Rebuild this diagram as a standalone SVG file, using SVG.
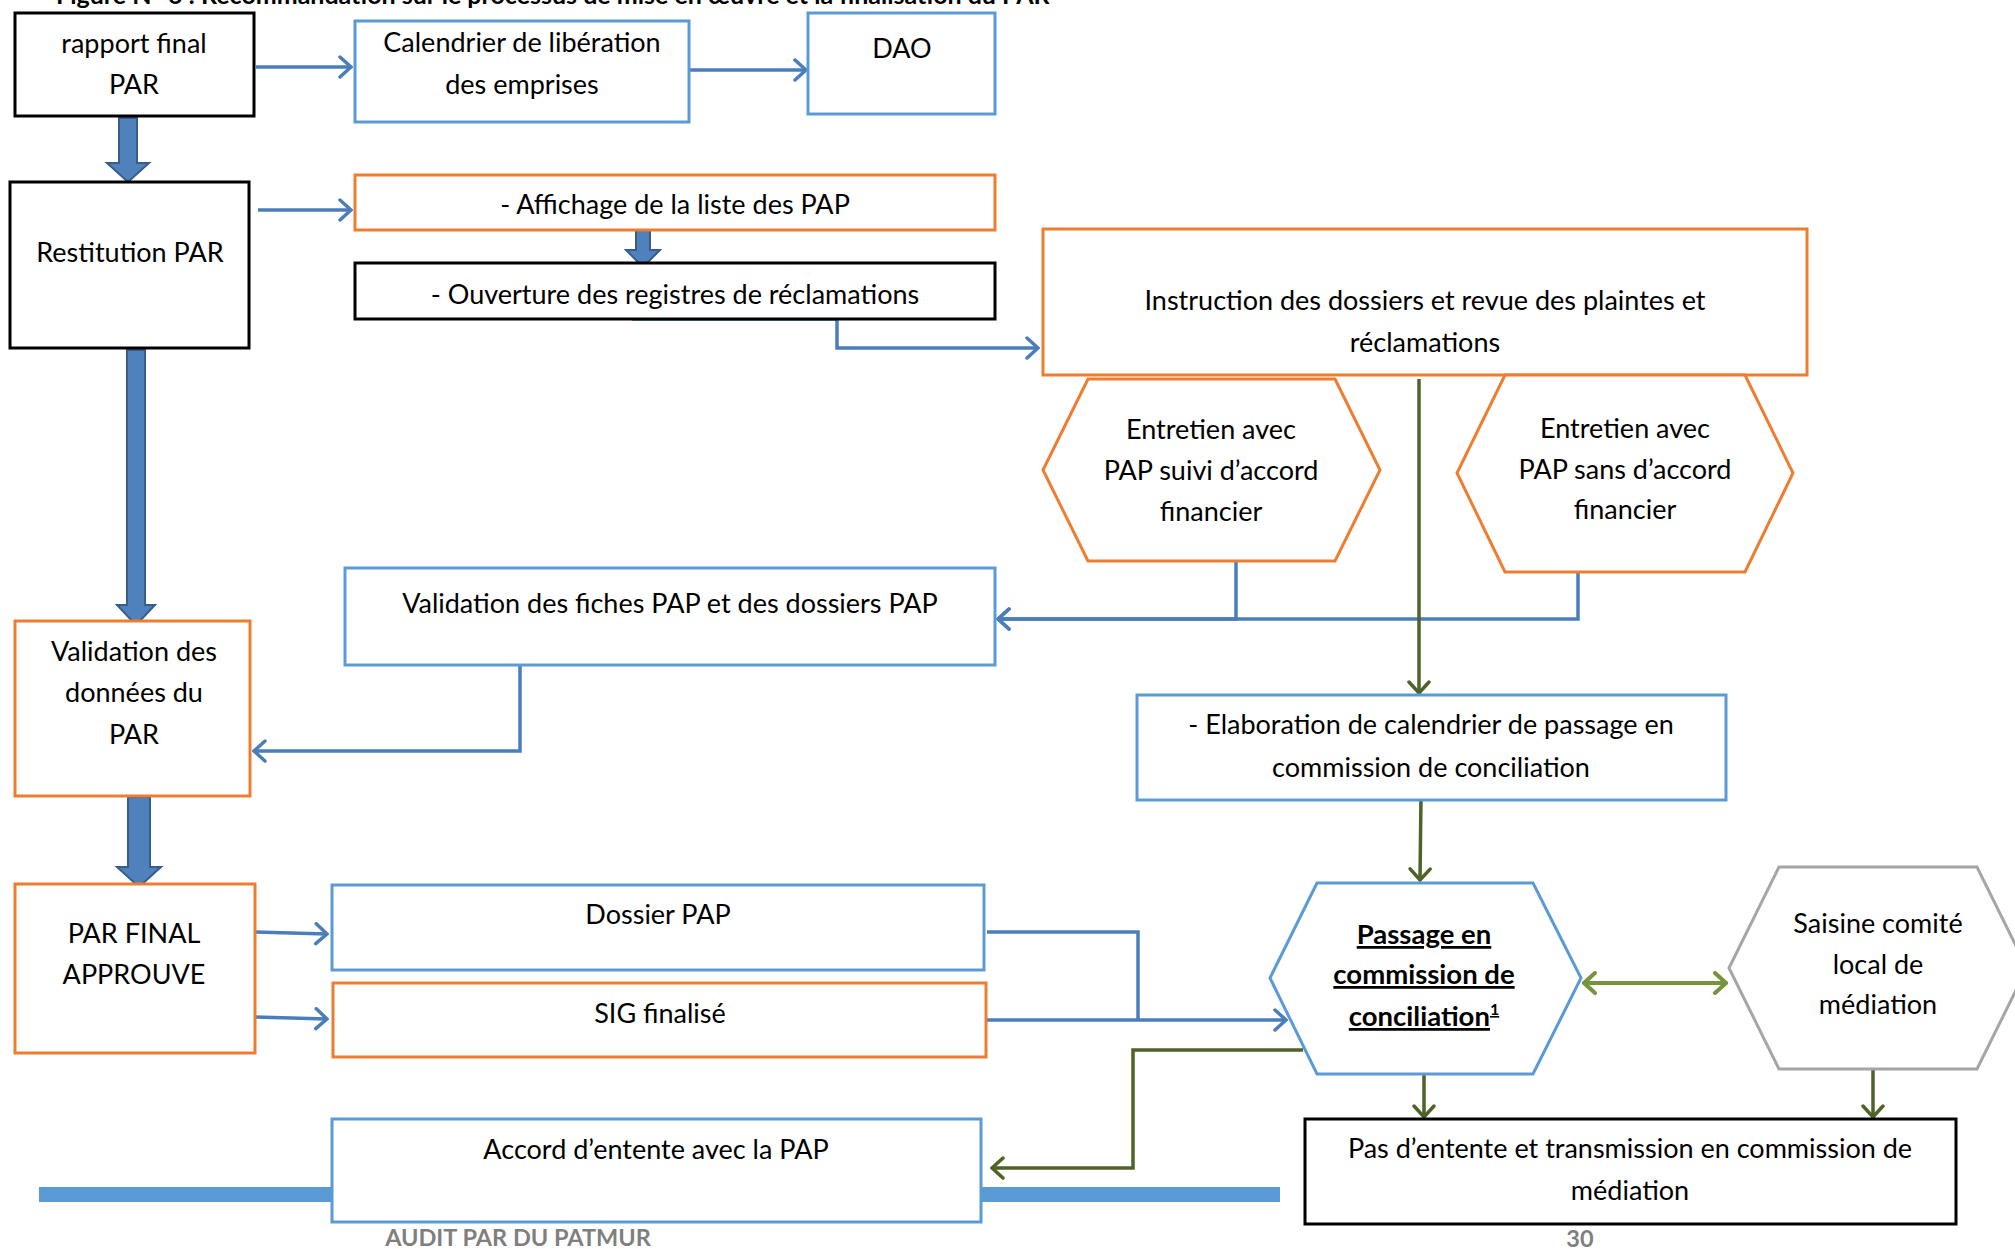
<svg xmlns="http://www.w3.org/2000/svg" width="2015" height="1249" viewBox="0 0 2015 1249">
  <style>
    text { font-family: "Lato", "Liberation Sans", sans-serif; font-size: 27px; fill: #000; text-anchor: middle; }
    .title { font-weight: bold; text-anchor: start; font-size: 25px; }
    .foot { font-weight: bold; fill: #7F7F7F; font-size: 23.5px; }
    .bold { font-weight: bold; text-decoration: underline; font-size: 27.5px; }
    .box { fill: #fff; stroke-width: 3; }
    .k { stroke: #000; }
    .b { stroke: #5B9BD5; }
    .o { stroke: #ED7D31; }
    .g { stroke: #A5A5A5; }
    .hex { fill: #fff; stroke-width: 3; stroke-linejoin: miter; }
    .cb { fill: none; stroke: #4A7EBB; stroke-width: 3.5; }
    .cg { fill: none; stroke: #4F6228; stroke-width: 3.5; }
    .cl { fill: none; stroke: #77933C; stroke-width: 4; }
    .blk { fill: #4F81BD; stroke: #385D8A; stroke-width: 2; }
  </style>
  <defs>
    <marker id="ab" markerUnits="userSpaceOnUse" viewBox="-14 -12 16 24" refX="0" refY="0" markerWidth="16" markerHeight="24" orient="auto">
      <path d="M-11,-10 L0,0 L-11,10" fill="none" stroke="#4A7EBB" stroke-width="3.5" stroke-linecap="round"/>
    </marker>
    <marker id="ag" markerUnits="userSpaceOnUse" viewBox="-14 -12 16 24" refX="0" refY="0" markerWidth="16" markerHeight="24" orient="auto">
      <path d="M-11,-10 L0,0 L-11,10" fill="none" stroke="#4F6228" stroke-width="3.5" stroke-linecap="round"/>
    </marker>
    <marker id="al" markerUnits="userSpaceOnUse" viewBox="-14 -12 16 24" refX="0" refY="0" markerWidth="16" markerHeight="24" orient="auto-start-reverse">
      <path d="M-11,-10 L0,0 L-11,10" fill="none" stroke="#77933C" stroke-width="4" stroke-linecap="round"/>
    </marker>
  </defs>

  <rect width="2015" height="1249" fill="#fff"/>

  <!-- page heading (runs off the top edge of the page) -->
  <text class="title" x="56" y="4">Figure N° 6 : Recommandation sur le processus de mise en œuvre et la finalisation du PAR</text>

  <!-- footer rule -->
  <rect x="39" y="1187" width="1241" height="15" fill="#5B9BD5"/>

  <g id="connectors">
    <!-- thick block arrows -->
    <polygon class="blk" points="119,118 137,118 137,163 149,163 128,182 107,163 119,163"/>
    <polygon class="blk" points="636,228 650,228 650,250 660,250 643,267 626,250 636,250"/>
    <polygon class="blk" points="127,350 145,350 145,605 155,605 136,625 117,605 127,605"/>
    <polygon class="blk" points="128,797 150,797 150,867 161,867 139,887 117,867 128,867"/>

    <!-- blue connectors -->
    <path class="cb" d="M256,67 L351,67" marker-end="url(#ab)"/>
    <path class="cb" d="M690,70 L806,70" marker-end="url(#ab)"/>
    <path class="cb" d="M258,210 L351,210" marker-end="url(#ab)"/>
    <path class="cb" d="M632,319 L837,319 L837,348 L1038,348" marker-end="url(#ab)"/>
    <path class="cb" d="M1236,560 L1236,619 L998,619" marker-end="url(#ab)"/>
    <path class="cb" d="M1578,572 L1578,619 L998,619" marker-end="url(#ab)"/>
    <path class="cb" d="M520,666 L520,751 L254,751" marker-end="url(#ab)"/>
    <path class="cb" d="M255,932 L327,934" marker-end="url(#ab)"/>
    <path class="cb" d="M255,1017 L327,1019" marker-end="url(#ab)"/>
    <path class="cb" d="M987,932 L1138,932 L1138,1020" />
    <path class="cb" d="M983,1020 L1286,1020" marker-end="url(#ab)"/>

    <!-- green connectors -->
    <path class="cg" d="M1419,379 L1419,693" marker-end="url(#ag)"/>
    <path class="cg" d="M1421,796 L1420,880" marker-end="url(#ag)"/>
    <path class="cg" d="M1303,1050 L1133,1050 L1133,1168 L992,1168" marker-end="url(#ag)"/>
    <path class="cg" d="M1424,1074 L1424,1117" marker-end="url(#ag)"/>
    <path class="cg" d="M1873,1069 L1873,1117" marker-end="url(#ag)"/>
    <path class="cl" d="M1584,983 L1726,983" marker-start="url(#al)" marker-end="url(#al)"/>
  </g>

  <g id="rapport-final">
    <rect class="box k" x="15" y="13" width="239" height="103"/>
    <text x="134" y="53">rapport final</text>
    <text x="134" y="94">PAR</text>
  </g>

  <g id="calendrier-liberation">
    <rect class="box b" x="355" y="21" width="334" height="101"/>
    <text x="522" y="52">Calendrier de libération</text>
    <text x="522" y="94">des emprises</text>
  </g>

  <g id="dao">
    <rect class="box b" x="808" y="13" width="187" height="101"/>
    <text x="902" y="58">DAO</text>
  </g>

  <g id="restitution">
    <rect class="box k" x="10" y="182" width="239" height="166"/>
    <text x="130" y="262">Restitution PAR</text>
  </g>

  <g id="affichage">
    <rect class="box o" x="355" y="175" width="640" height="55"/>
    <text x="675" y="214">- Affichage de la liste des PAP</text>
  </g>

  <g id="ouverture">
    <rect class="box k" x="355" y="263" width="640" height="56"/>
    <text x="675" y="304">- Ouverture des registres de réclamations</text>
  </g>

  <g id="instruction">
    <rect class="box o" x="1043" y="229" width="764" height="146"/>
    <text x="1425" y="310">Instruction des dossiers et revue des plaintes et</text>
    <text x="1425" y="352">réclamations</text>
  </g>

  <g id="entretien-accord">
    <polygon class="hex o" points="1088,379 1335,379 1380,470 1335,561 1088,561 1043,470"/>
    <text x="1211" y="439">Entretien avec</text>
    <text x="1211" y="480">PAP suivi d’accord</text>
    <text x="1211" y="521">financier</text>
  </g>

  <g id="entretien-sans-accord">
    <polygon class="hex o" points="1505,375 1745,375 1793,473 1745,572 1505,572 1457,473"/>
    <text x="1625" y="438">Entretien avec</text>
    <text x="1625" y="479">PAP sans d’accord</text>
    <text x="1625" y="519">financier</text>
  </g>

  <g id="validation-fiches">
    <rect class="box b" x="345" y="568" width="650" height="97"/>
    <text x="670" y="613">Validation des fiches PAP et des dossiers PAP</text>
  </g>

  <g id="validation-donnees">
    <rect class="box o" x="15" y="621" width="235" height="175"/>
    <text x="134" y="661">Validation des</text>
    <text x="134" y="702">données du</text>
    <text x="134" y="744">PAR</text>
  </g>

  <g id="elaboration-calendrier">
    <rect class="box b" x="1137" y="695" width="589" height="105"/>
    <text x="1431" y="734">- Elaboration de calendrier de passage en</text>
    <text x="1431" y="777">commission de conciliation</text>
  </g>

  <g id="par-final">
    <rect class="box o" x="15" y="884" width="240" height="169"/>
    <text x="134" y="943">PAR FINAL</text>
    <text x="134" y="984">APPROUVE</text>
  </g>

  <g id="dossier-pap">
    <rect class="box b" x="332" y="885" width="652" height="85"/>
    <text x="658" y="924">Dossier PAP</text>
  </g>

  <g id="sig-finalise">
    <rect class="box o" x="333" y="983" width="653" height="74"/>
    <text x="660" y="1023">SIG finalisé</text>
  </g>

  <g id="passage-conciliation">
    <polygon class="hex b" points="1317,883 1533,883 1581,978 1533,1074 1317,1074 1270,978"/>
    <text class="bold" x="1424" y="944">Passage en</text>
    <text class="bold" x="1424" y="984">commission de</text>
    <text class="bold" x="1424" y="1026">conciliation<tspan font-size="16" dy="-11">1</tspan></text>
  </g>

  <g id="saisine-comite">
    <polygon class="hex g" points="1779,867 1977,867 2027,968 1977,1069 1779,1069 1729,968"/>
    <text x="1878" y="933">Saisine comité</text>
    <text x="1878" y="974">local de</text>
    <text x="1878" y="1014">médiation</text>
  </g>

  <g id="accord-entente">
    <rect class="box b" x="332" y="1119" width="649" height="103"/>
    <text x="656" y="1159">Accord d’entente avec la PAP</text>
  </g>

  <g id="pas-entente">
    <rect class="box k" x="1305" y="1119" width="651" height="105"/>
    <text x="1630" y="1158">Pas d’entente et transmission en commission de</text>
    <text x="1630" y="1200">médiation</text>
  </g>

  <text class="foot" x="518" y="1246">AUDIT PAR DU PATMUR</text>
  <text class="foot" x="1580" y="1247">30</text>
</svg>
